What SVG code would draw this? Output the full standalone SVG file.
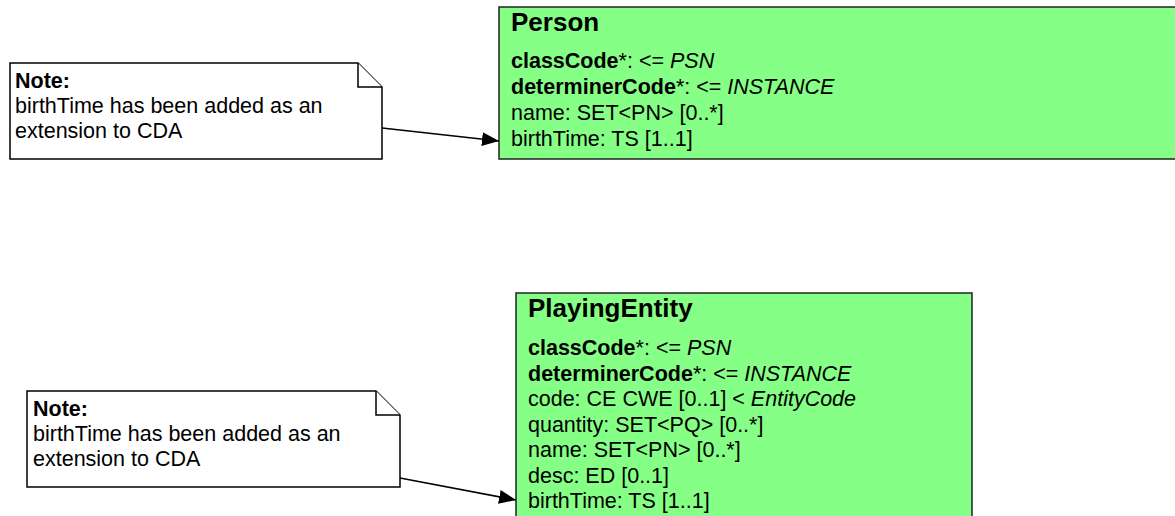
<svg xmlns="http://www.w3.org/2000/svg" width="1175" height="516" viewBox="0 0 1175 516">
<style>
text{font-family:"Liberation Sans",Arial,sans-serif;fill:#000}
.t{font-size:26px;font-weight:bold}
.a{font-size:21.5px}
.b{font-weight:bold}
.i{font-style:italic}
.cls{fill:#85ff85;stroke:#222;stroke-width:1.5}
.note{fill:#fff;stroke:#000;stroke-width:1.5}
.conn{stroke:#000;stroke-width:1.5;fill:none}
</style>
<defs>
<marker id="arr" markerUnits="userSpaceOnUse" markerWidth="18" markerHeight="16" refX="17" refY="7" orient="auto" viewBox="0 0 18 14">
<path d="M0,0 L17,7 L0,14 z" fill="#000"/>
</marker>
</defs>
<rect width="1175" height="516" fill="#fff"/>
<g id="person">
<rect class="cls" x="499" y="7" width="690" height="152"/>
<text class="t" x="511" y="31">Person</text>
<text class="a" x="511" y="68"><tspan class="b">classCode</tspan>*: &lt;= <tspan class="i">PSN</tspan></text>
<text class="a" x="511" y="94"><tspan class="b">determinerCode</tspan>*: &lt;= <tspan class="i">INSTANCE</tspan></text>
<text class="a" x="511" y="120">name: SET&lt;PN&gt; [0..*]</text>
<text class="a" x="511" y="146">birthTime: TS [1..1]</text>
</g>
<g id="playingEntity">
<rect class="cls" x="516" y="293" width="456" height="235"/>
<text class="t" x="528" y="317">PlayingEntity</text>
<text class="a" x="528" y="355"><tspan class="b">classCode</tspan>*: &lt;= <tspan class="i">PSN</tspan></text>
<text class="a" x="528" y="380.5"><tspan class="b">determinerCode</tspan>*: &lt;= <tspan class="i">INSTANCE</tspan></text>
<text class="a" x="528" y="406">code: CE CWE [0..1] &lt; <tspan class="i">EntityCode</tspan></text>
<text class="a" x="528" y="431.5">quantity: SET&lt;PQ&gt; [0..*]</text>
<text class="a" x="528" y="457">name: SET&lt;PN&gt; [0..*]</text>
<text class="a" x="528" y="482.5">desc: ED [0..1]</text>
<text class="a" x="528" y="508">birthTime: TS [1..1]</text>
</g>
<g id="note1">
<path class="note" d="M10,63 H358 L382,87 V159 H10 Z"/>
<path class="note" d="M358,63 V87 H382"/>
<text class="a b" x="15" y="88">Note:</text>
<text class="a" x="15" y="113">birthTime has been added as an</text>
<text class="a" x="15" y="138">extension to CDA</text>
</g>
<g id="note2">
<path class="note" d="M27,391 H376 L400,415 V487 H27 Z"/>
<path class="note" d="M376,391 V415 H400"/>
<text class="a b" x="33" y="416">Note:</text>
<text class="a" x="33" y="441">birthTime has been added as an</text>
<text class="a" x="33" y="466">extension to CDA</text>
</g>
<g id="connectors">
<line class="conn" x1="382" y1="128" x2="499" y2="141" marker-end="url(#arr)"/>
<line class="conn" x1="400" y1="478" x2="516" y2="500" marker-end="url(#arr)"/>
</g>
</svg>
